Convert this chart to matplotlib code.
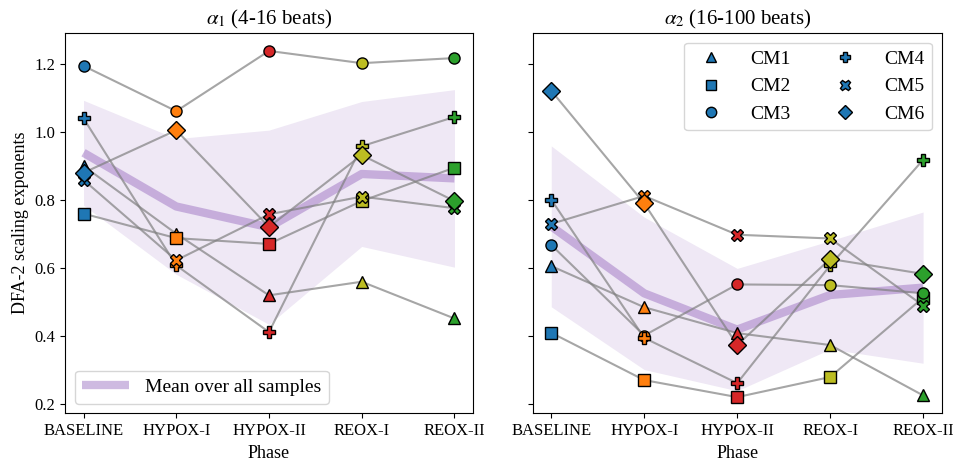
import matplotlib.pyplot as plt
import numpy as np

plt.rcParams['font.family'] = ['Liberation Serif', 'DejaVu Serif']
plt.rcParams['mathtext.fontset'] = 'stix'

phases = ['BASELINE', 'HYPOX-I', 'HYPOX-II', 'REOX-I', 'REOX-II']
samples = ['CM1', 'CM2', 'CM3', 'CM4', 'CM5', 'CM6']
markers = ['^', 's', 'o', 'P', 'X', 'D']
phase_colors = ['tab:blue', 'tab:orange', 'tab:red', 'tab:olive', 'tab:green']

# scaling exponents per sample (rows) and phase (columns)
alpha1 = np.array([
    [0.899, 0.700, 0.519, 0.559, 0.451],  # CM1
    [0.759, 0.687, 0.670, 0.796, 0.894],  # CM2
    [1.193, 1.060, 1.237, 1.201, 1.216],  # CM3
    [1.039, 0.607, 0.411, 0.957, 1.043],  # CM4
    [0.858, 0.622, 0.757, 0.809, 0.775],  # CM5
    [0.879, 1.004, 0.720, 0.931, 0.796],  # CM6
])
alpha2 = np.array([
    [0.605, 0.484, 0.408, 0.373, 0.225],  # CM1
    [0.409, 0.270, 0.220, 0.279, 0.512],  # CM2
    [0.667, 0.401, 0.551, 0.549, 0.525],  # CM3
    [0.800, 0.394, 0.261, 0.607, 0.917],  # CM4
    [0.729, 0.811, 0.697, 0.686, 0.489],  # CM5
    [1.120, 0.789, 0.373, 0.626, 0.582],  # CM6
])

titles = [r'$\alpha_1$ (4-16 beats)', r'$\alpha_2$ (16-100 beats)']

fig = plt.figure(figsize=(9.61, 4.63), dpi=100)
ax1 = fig.add_axes([0.0676, 0.107, 0.4246, 0.822])
ax2 = fig.add_axes([0.5543, 0.107, 0.4256, 0.822], sharey=ax1)

x = np.arange(len(phases))

for ax, data, title in zip([ax1, ax2], [alpha1, alpha2], titles):
    mean = data.mean(axis=0)
    std = data.std(axis=0, ddof=1)
    ax.fill_between(x, mean - std, mean + std, color='tab:purple', alpha=0.15,
                    linewidth=0, zorder=1)
    ax.plot(x, mean, color='tab:purple', alpha=0.45, linewidth=6,
            solid_capstyle='butt', label='Mean over all samples', zorder=2)
    for i, m in enumerate(markers):
        ax.plot(x, data[i], color='gray', alpha=0.7, linewidth=1.5, zorder=3)
        for j in range(len(phases)):
            ax.plot(x[j], data[i, j], marker=m, markersize=8 if m != 'D' else 9,
                    color=phase_colors[j], markeredgecolor='black',
                    markeredgewidth=1, linestyle='none', zorder=4)
    ax.set_title(title, fontsize=15)
    ax.set_xticks(x)
    ax.set_xticklabels(phases, fontsize=12)
    ax.set_xlabel('Phase', fontsize=13)
    ax.tick_params(axis='y', labelsize=12)

ax1.set_ylabel('DFA-2 scaling exponents', fontsize=13)
ax1.set_yticks([0.2, 0.4, 0.6, 0.8, 1.0, 1.2])
ax1.set_ylim(0.172, 1.29)
plt.setp(ax2.get_yticklabels(), visible=False)
ax1.legend(loc='lower left', fontsize=14, handlelength=2.4)

handles = [plt.Line2D([], [], marker=m, color='tab:blue', markeredgecolor='black',
                      markersize=7.5, linestyle='none') for m in markers]
ax2.legend(handles, samples, ncol=2, loc='upper right', fontsize=14,
           columnspacing=1.8, handletextpad=1.0)

fig.savefig('out.png', dpi=100)
